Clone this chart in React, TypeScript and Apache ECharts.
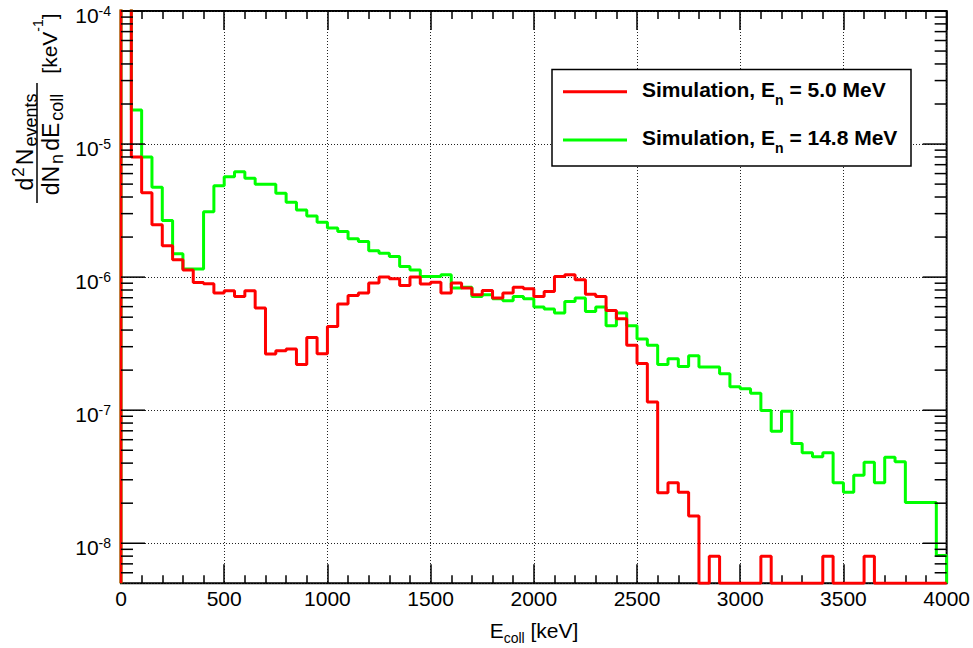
import React, { useEffect, useRef } from "react";
import * as echarts from "echarts";

const FONT = "'Liberation Sans', Arial, Helvetica, sans-serif";

const BIN_WIDTH = 50; // keV
const X_MIN = 0;
const X_MAX = 4000;
const Y_MIN = 5e-9;
const Y_MAX = 1e-4;

const X_TICK_LABELS = ["0", "500", "1000", "1500", "2000", "2500", "3000", "3500", "4000"];

// Simulation, E_n = 5.0 MeV (50 keV bins, 0 = empty bin)
const RED_5MEV = [
  3e-4, 8.0e-6, 4.3e-6, 2.47e-6, 1.72e-6, 1.35e-6, 1.13e-6, 9.1e-7, 8.9e-7, 7.6e-7,
  7.9e-7, 7.15e-7, 7.9e-7, 5.85e-7, 2.64e-7, 2.8e-7, 2.88e-7, 2.2e-7, 3.52e-7, 2.65e-7,
  4.26e-7, 6.27e-7, 7.28e-7, 7.59e-7, 9.02e-7, 1.0e-6, 9.71e-7, 8.65e-7, 1.0e-6, 8.86e-7,
  9.17e-7, 7.59e-7, 9.02e-7, 8.27e-7, 7.36e-7, 7.93e-7, 6.96e-7, 7.59e-7, 8.41e-7, 8.17e-7,
  7.15e-7, 7.8e-7, 1.01e-6, 1.04e-6, 9.55e-7, 7.43e-7, 7.15e-7, 5.62e-7, 4.86e-7, 3.07e-7,
  2.24e-7, 1.15e-7, 2.4e-8, 2.85e-8, 2.42e-8, 1.6e-8, 0, 8.0e-9, 0, 0,
  0, 0, 8.0e-9, 0, 0, 0, 0, 0, 8.0e-9, 0,
  0, 0, 8.0e-9, 0, 0, 0, 0, 0, 0, 0,
];

// Simulation, E_n = 14.8 MeV
const GREEN_14MEV = [
  2e-4, 1.8e-5, 8.0e-6, 4.73e-6, 2.66e-6, 1.5e-6, 1.15e-6, 1.15e-6, 3.1e-6, 4.87e-6,
  5.69e-6, 6.2e-6, 5.53e-6, 4.99e-6, 4.99e-6, 4.27e-6, 3.65e-6, 3.2e-6, 2.88e-6, 2.59e-6,
  2.34e-6, 2.2e-6, 1.94e-6, 1.85e-6, 1.58e-6, 1.51e-6, 1.43e-6, 1.2e-6, 1.13e-6, 1.01e-6,
  1.01e-6, 1.04e-6, 8.27e-7, 8.41e-7, 7.15e-7, 7.36e-7, 6.88e-7, 6.64e-7, 7.15e-7, 6.88e-7,
  5.96e-7, 5.75e-7, 5.37e-7, 6.56e-7, 6.96e-7, 5.52e-7, 5.96e-7, 4.31e-7, 5.37e-7, 4.31e-7,
  3.43e-7, 3.07e-7, 2.2e-7, 2.44e-7, 2.13e-7, 2.57e-7, 2.11e-7, 2.11e-7, 1.88e-7, 1.5e-7,
  1.45e-7, 1.34e-7, 9.93e-8, 6.95e-8, 9.82e-8, 5.61e-8, 4.79e-8, 4.47e-8, 4.79e-8, 2.85e-8,
  2.42e-8, 3.25e-8, 4.06e-8, 2.85e-8, 4.43e-8, 4.09e-8, 2.02e-8, 2.02e-8, 2.02e-8, 8.1e-9,
];

const SERIES_NAMES = ["Simulation, E_n = 5.0 MeV", "Simulation, E_n = 14.8 MeV"];

function histPoints(values: number[]): number[][] {
  const pts: number[][] = [[X_MIN, Y_MIN]];
  values.forEach((v, i) => {
    const y = Math.max(v, Y_MIN);
    pts.push([X_MIN + i * BIN_WIDTH, y], [X_MIN + (i + 1) * BIN_WIDTH, y]);
  });
  pts.push([X_MIN + values.length * BIN_WIDTH, Y_MIN]);
  return pts;
}

// log-axis tick marks (major decades and 2..9 minor)
function logTicks(): number[][] {
  const out: number[][] = [];
  for (let e = -9; e <= -4; e++) {
    for (let k = 1; k <= 9; k++) {
      const v = k * Math.pow(10, e);
      if (v > Y_MIN * 1.0001 && v <= Y_MAX * 1.0001) out.push([X_MIN, v, k === 1 ? 1 : 0]);
    }
  }
  return out;
}

const baseText = { fontFamily: FONT, color: "#000" };

function buildOption(): any {
  return {
    animation: false,
    backgroundColor: "#fff",
    grid: {
      left: 121,
      right: 25.5,
      top: 11,
      bottom: 64.7,
      show: true,
      borderColor: "#000",
      borderWidth: 2,
      backgroundColor: "transparent",
    },
    xAxis: [
      {
        type: "value",
        min: X_MIN,
        max: X_MAX,
        interval: 500,
        axisLine: { show: false },
        axisTick: { show: true, inside: true, length: 19, lineStyle: { color: "#000", width: 1.5 } },
        minorTick: { show: true, splitNumber: 5, length: 8, lineStyle: { color: "#000", width: 1.5 } },
        axisLabel: {
          margin: 5,
          fontSize: 21,
          fontFamily: FONT,
          color: "#000",
          formatter: (v: number) => X_TICK_LABELS[Math.round(v / 500)] ?? String(v),
        },
        splitLine: { show: true, lineStyle: { color: "#222", width: 1, type: [1, 2] } },
      },
      {
        type: "value",
        position: "top",
        min: X_MIN,
        max: X_MAX,
        interval: 500,
        axisLine: { show: false },
        axisTick: { show: true, inside: true, length: 19, lineStyle: { color: "#000", width: 1.5 } },
        minorTick: { show: true, splitNumber: 5, length: 8, lineStyle: { color: "#000", width: 1.5 } },
        axisLabel: { show: false },
        splitLine: { show: false },
      },
    ],
    yAxis: {
      type: "log",
      logBase: 10,
      min: Y_MIN,
      max: Y_MAX,
      axisLine: { show: false },
      axisTick: { show: false },
      axisLabel: {
        margin: 10,
        showMinLabel: false,
        formatter: (v: number) => `{b|10}{s|${Math.round(Math.log10(v))}}`,
        rich: {
          b: { ...baseText, fontSize: 21, lineHeight: 29, verticalAlign: "bottom" },
          s: { ...baseText, fontSize: 14 },
        },
      },
      splitLine: { show: true, lineStyle: { color: "#222", width: 1, type: [1, 2] } },
    },
    series: [
      {
        name: SERIES_NAMES[0],
        type: "line",
        data: histPoints(RED_5MEV),
        showSymbol: false,
        symbol: "none",
        lineStyle: { color: "#ff0000", width: 3 },
        itemStyle: { color: "#ff0000" },
        clip: true,
        z: 4,
      },
      {
        name: SERIES_NAMES[1],
        type: "line",
        data: histPoints(GREEN_14MEV),
        showSymbol: false,
        symbol: "none",
        lineStyle: { color: "#00ff00", width: 3 },
        itemStyle: { color: "#00ff00" },
        clip: true,
        z: 3,
      },
      {
        type: "custom",
        coordinateSystem: "cartesian2d",
        silent: true,
        data: logTicks(),
        encode: { x: 0, y: 1 },
        z: 6,
        renderItem: (_p: any, api: any) => {
          const v = api.value(1);
          const major = api.value(2) === 1;
          const l = api.coord([X_MIN, v]);
          const r = api.coord([X_MAX, v]);
          const len = major ? 24 : 12;
          const st = { stroke: "#000", lineWidth: 1.5 };
          return {
            type: "group",
            children: [
              { type: "line", shape: { x1: l[0], y1: l[1], x2: l[0] + len, y2: l[1] }, style: st },
              { type: "line", shape: { x1: r[0] - len, y1: r[1], x2: r[0], y2: r[1] }, style: st },
            ],
          };
        },
      },
    ],
    graphic: [
      // legend
      {
        type: "rect",
        z: 100,
        shape: { x: 552, y: 69.5, width: 359, height: 96.5 },
        style: { fill: "#fff", stroke: "#000", lineWidth: 1.5 },
      },
      {
        type: "line",
        z: 101,
        shape: { x1: 563, y1: 91.7, x2: 627, y2: 91.7 },
        style: { stroke: "#ff0000", lineWidth: 3 },
      },
      {
        type: "line",
        z: 101,
        shape: { x1: 563, y1: 140, x2: 627, y2: 140 },
        style: { stroke: "#00ff00", lineWidth: 3 },
      },
      {
        type: "text",
        z: 101,
        x: 642,
        y: 79,
        style: {
          text: "{b|Simulation, E}{s|n}{b| = 5.0 MeV}",
          verticalAlign: "top",
          rich: {
            b: { ...baseText, fontSize: 21, fontWeight: "bold", lineHeight: 28, verticalAlign: "top" },
            s: { ...baseText, fontSize: 14, fontWeight: "bold", verticalAlign: "bottom" },
          },
        },
      },
      {
        type: "text",
        z: 101,
        x: 642,
        y: 126.5,
        style: {
          text: "{b|Simulation, E}{s|n}{b| = 14.8 MeV}",
          verticalAlign: "top",
          rich: {
            b: { ...baseText, fontSize: 21, fontWeight: "bold", lineHeight: 28, verticalAlign: "top" },
            s: { ...baseText, fontSize: 14, fontWeight: "bold", verticalAlign: "bottom" },
          },
        },
      },
      // x-axis title
      {
        type: "text",
        x: 534,
        y: 620,
        style: {
          text: "{b|E}{s|coll}{b| [keV]}",
          align: "center",
          verticalAlign: "top",
          rich: {
            b: { ...baseText, fontSize: 21, lineHeight: 25, verticalAlign: "top" },
            s: { ...baseText, fontSize: 14, verticalAlign: "bottom" },
          },
        },
      },
      // y-axis title (rotated)
      {
        type: "group",
        x: 0,
        y: 0,
        rotation: Math.PI / 2,
        children: [
          {
            type: "text",
            x: -142,
            y: 25,
            style: {
              text: "{b|d}{u|2}{b|N}{s|events}",
              align: "center",
              verticalAlign: "middle",
              rich: {
                b: { ...baseText, fontSize: 23, lineHeight: 30 },
                u: { ...baseText, fontSize: 17, verticalAlign: "top", padding: [0, 2, 0, 1] },
                s: { ...baseText, fontSize: 18, verticalAlign: "bottom", padding: [0, 0, 0, 2] },
              },
            },
          },
          {
            type: "text",
            x: -143,
            y: 51,
            style: {
              text: "{b|dN}{s|n}{b|dE}{s|coll}",
              align: "center",
              verticalAlign: "middle",
              rich: {
                b: { ...baseText, fontSize: 23, lineHeight: 30 },
                s: { ...baseText, fontSize: 18, verticalAlign: "bottom", padding: [0, 3, 0, 2] },
              },
            },
          },
          {
            type: "line",
            shape: { x1: -203, y1: 37, x2: -83, y2: 37 },
            style: { stroke: "#000", lineWidth: 1.5 },
          },
          {
            type: "text",
            x: -43.5,
            y: 49,
            style: {
              text: "{b|[keV}{u|-1}{b|]}",
              align: "center",
              verticalAlign: "middle",
              rich: {
                b: { ...baseText, fontSize: 21, lineHeight: 36 },
                u: { ...baseText, fontSize: 14, verticalAlign: "top" },
              },
            },
          },
        ],
      },
    ],
  };
}

export default function App() {
  const ref = useRef<HTMLDivElement>(null);
  useEffect(() => {
    if (!ref.current) return;
    const chart = echarts.init(ref.current, undefined, { renderer: "svg" });
    chart.setOption(buildOption());
    return () => chart.dispose();
  }, []);
  return (
    <div
      ref={ref}
      style={{ position: "fixed", left: 0, top: 0, width: 973, height: 648, background: "#fff" }}
    />
  );
}
